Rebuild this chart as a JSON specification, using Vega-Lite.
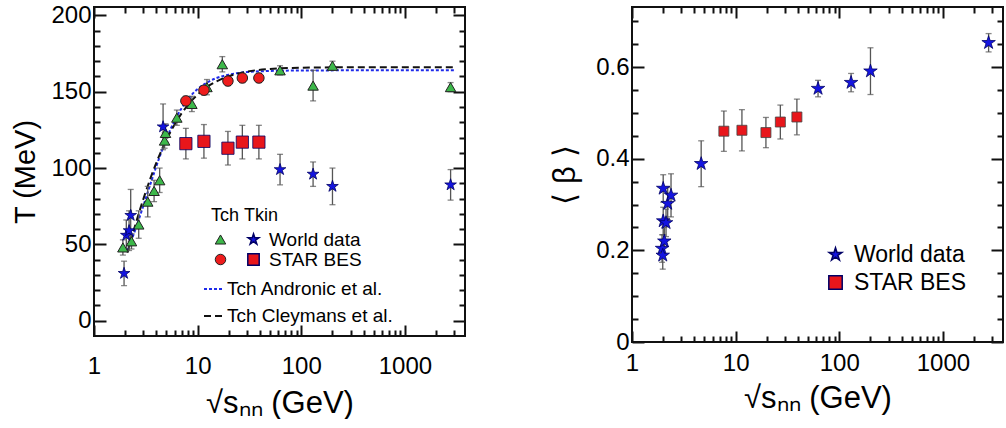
{
  "$schema": "https://vega.github.io/schema/vega-lite/v6.json",
  "padding": {"left": 10, "top": 2, "right": 0, "bottom": 0},
  "config": {
    "font": "Liberation Sans",
    "view": {"stroke": "#111111", "strokeWidth": 2},
    "axis": {"grid": false, "domain": false, "ticks": true, "zindex": 1, "labelFontSize": 24, "titleFontSize": 31, "titleFontWeight": "normal", "labelColor": "#000000", "titleColor": "#000000", "labelOverlap": false, "labelFlush": false},
    "legend": {"padding": 0, "titleFontWeight": "normal", "titleColor": "#000000", "labelColor": "#000000", "labelLimit": 400}
  },
  "bounds": "flush",
  "spacing": 167,
  "datasets": {
    "tch": [
      {"x": 1.9, "T": 48, "err": 5, "source": "World data"},
      {"x": 2.3, "T": 52, "err": 5, "source": "World data"},
      {"x": 2.7, "T": 63, "err": 9, "source": "World data"},
      {"x": 3.3, "T": 78, "err": 10, "source": "World data"},
      {"x": 3.8, "T": 85, "err": 7, "source": "World data"},
      {"x": 4.3, "T": 92, "err": 8, "source": "World data"},
      {"x": 4.8, "T": 118, "err": 5, "source": "World data"},
      {"x": 4.9, "T": 123, "err": 6, "source": "World data"},
      {"x": 6.3, "T": 133, "err": 5, "source": "World data"},
      {"x": 8.8, "T": 142, "err": 5, "source": "World data"},
      {"x": 12.3, "T": 153, "err": 5, "source": "World data"},
      {"x": 17.3, "T": 168, "err": 5, "source": "World data"},
      {"x": 62.4, "T": 164, "err": 3, "source": "World data"},
      {"x": 130, "T": 154, "err": 10, "source": "World data"},
      {"x": 200, "T": 167, "err": 3, "source": "World data"},
      {"x": 2760, "T": 153, "err": 3, "source": "World data"},
      {"x": 7.7, "T": 144, "err": 3, "source": "STAR BES"},
      {"x": 11.5, "T": 151, "err": 3, "source": "STAR BES"},
      {"x": 19.6, "T": 157, "err": 3, "source": "STAR BES"},
      {"x": 27, "T": 159, "err": 3, "source": "STAR BES"},
      {"x": 39, "T": 159, "err": 3, "source": "STAR BES"}
    ],
    "tkin": [
      {"x": 1.95, "T": 31, "err": 8, "source": "World data"},
      {"x": 2.05, "T": 56, "err": 10, "source": "World data"},
      {"x": 2.18, "T": 59, "err": 13, "source": "World data"},
      {"x": 2.26, "T": 69, "err": 17, "source": "World data"},
      {"x": 4.64, "T": 127, "err": 15, "source": "World data"},
      {"x": 62.4, "T": 99, "err": 10, "source": "World data"},
      {"x": 130, "T": 96, "err": 8, "source": "World data"},
      {"x": 200, "T": 88, "err": 12, "source": "World data"},
      {"x": 2760, "T": 89, "err": 10, "source": "World data"},
      {"x": 7.7, "T": 116, "err": 10, "source": "STAR BES"},
      {"x": 11.5, "T": 117.5, "err": 11, "source": "STAR BES"},
      {"x": 19.6, "T": 113, "err": 11, "source": "STAR BES"},
      {"x": 27, "T": 117, "err": 11, "source": "STAR BES"},
      {"x": 39, "T": 117, "err": 11, "source": "STAR BES"}
    ],
    "curves": [
      {"model": "Tch Andronic et al.", "x": 2.1, "T": 45.7},
      {"model": "Tch Andronic et al.", "x": 2.5, "T": 59.5},
      {"model": "Tch Andronic et al.", "x": 3, "T": 75.5},
      {"model": "Tch Andronic et al.", "x": 3.5, "T": 89.5},
      {"model": "Tch Andronic et al.", "x": 4, "T": 101.3},
      {"model": "Tch Andronic et al.", "x": 5, "T": 119.2},
      {"model": "Tch Andronic et al.", "x": 6, "T": 131.1},
      {"model": "Tch Andronic et al.", "x": 7, "T": 139.2},
      {"model": "Tch Andronic et al.", "x": 8, "T": 144.8},
      {"model": "Tch Andronic et al.", "x": 10, "T": 151.8},
      {"model": "Tch Andronic et al.", "x": 12, "T": 155.6},
      {"model": "Tch Andronic et al.", "x": 15, "T": 158.8},
      {"model": "Tch Andronic et al.", "x": 20, "T": 161.2},
      {"model": "Tch Andronic et al.", "x": 30, "T": 162.9},
      {"model": "Tch Andronic et al.", "x": 50, "T": 163.6},
      {"model": "Tch Andronic et al.", "x": 100, "T": 163.9},
      {"model": "Tch Andronic et al.", "x": 300, "T": 164},
      {"model": "Tch Andronic et al.", "x": 1000, "T": 164},
      {"model": "Tch Andronic et al.", "x": 3000, "T": 164},
      {"model": "Tch Cleymans et al.", "x": 2.1, "T": 44.6},
      {"model": "Tch Cleymans et al.", "x": 2.5, "T": 62.6},
      {"model": "Tch Cleymans et al.", "x": 3, "T": 79.9},
      {"model": "Tch Cleymans et al.", "x": 3.5, "T": 93.2},
      {"model": "Tch Cleymans et al.", "x": 4, "T": 103.6},
      {"model": "Tch Cleymans et al.", "x": 5, "T": 118.5},
      {"model": "Tch Cleymans et al.", "x": 6, "T": 128.6},
      {"model": "Tch Cleymans et al.", "x": 7, "T": 135.8},
      {"model": "Tch Cleymans et al.", "x": 8, "T": 141.1},
      {"model": "Tch Cleymans et al.", "x": 10, "T": 148.1},
      {"model": "Tch Cleymans et al.", "x": 12, "T": 152.5},
      {"model": "Tch Cleymans et al.", "x": 15, "T": 156.6},
      {"model": "Tch Cleymans et al.", "x": 20, "T": 160.2},
      {"model": "Tch Cleymans et al.", "x": 30, "T": 163.2},
      {"model": "Tch Cleymans et al.", "x": 50, "T": 164.9},
      {"model": "Tch Cleymans et al.", "x": 100, "T": 165.7},
      {"model": "Tch Cleymans et al.", "x": 300, "T": 166},
      {"model": "Tch Cleymans et al.", "x": 1000, "T": 166},
      {"model": "Tch Cleymans et al.", "x": 3000, "T": 166}
    ],
    "beta": [
      {"x": 1.95, "b": 0.204, "err": 0.03, "source": "World data"},
      {"x": 1.98, "b": 0.189, "err": 0.03, "source": "World data"},
      {"x": 2.05, "b": 0.22, "err": 0.03, "source": "World data"},
      {"x": 2.0, "b": 0.264, "err": 0.03, "source": "World data"},
      {"x": 2.13, "b": 0.26, "err": 0.03, "source": "World data"},
      {"x": 2.21, "b": 0.302, "err": 0.035, "source": "World data"},
      {"x": 2.38, "b": 0.32, "err": 0.047, "source": "World data"},
      {"x": 2.0, "b": 0.335, "err": 0.03, "source": "World data"},
      {"x": 4.65, "b": 0.389, "err": 0.05, "source": "World data"},
      {"x": 62.4, "b": 0.553, "err": 0.018, "source": "World data"},
      {"x": 130, "b": 0.566, "err": 0.02, "source": "World data"},
      {"x": 200, "b": 0.591, "err": 0.051, "source": "World data"},
      {"x": 2760, "b": 0.653, "err": 0.02, "source": "World data"},
      {"x": 7.7, "b": 0.46, "err": 0.044, "source": "STAR BES"},
      {"x": 11.5, "b": 0.462, "err": 0.045, "source": "STAR BES"},
      {"x": 19.6, "b": 0.457, "err": 0.033, "source": "STAR BES"},
      {"x": 27, "b": 0.48, "err": 0.037, "source": "STAR BES"},
      {"x": 39, "b": 0.491, "err": 0.039, "source": "STAR BES"}
    ]
  },
  "hconcat": [
    {
      "width": 371,
      "height": 329,
      "resolve": {"scale": {"color": "independent", "shape": "independent", "strokeDash": "independent"}, "axis": {"x": "independent", "y": "independent"}},
      "layer": [
        {
          "data": {"name": "curves"},
          "mark": {"type": "line", "strokeWidth": 2, "interpolate": "monotone"},
          "encoding": {
            "x": {"field": "x", "type": "quantitative", "scale": {"type": "log", "domain": [1, 3800], "nice": false},
              "axis": {"orient": "bottom", "title": "√sₙₙ (GeV)", "values": [1, 10, 100, 1000], "labelExpr": "'' + datum.value",
                "ticks": true, "tickColor": "#111111", "tickWidth": 2, "offset": -11, "tickSize": 11, "labelPadding": 18, "titlePadding": 10}},
            "y": {"field": "T", "type": "quantitative", "scale": {"domain": [-10, 205.5], "nice": false, "zero": false},
              "axis": {"orient": "left", "title": "T (MeV)", "titleFontSize": 29, "values": [0, 50, 100, 150, 200], "labelExpr": "'' + datum.value",
                "ticks": true, "tickColor": "#111111", "tickWidth": 2, "offset": -12, "tickSize": 12, "labelPadding": 3, "titlePadding": 10}},
            "color": {"field": "model", "type": "nominal", "scale": {"domain": ["Tch Andronic et al.", "Tch Cleymans et al."], "range": ["#1f2bea", "#111111"]},
              "legend": {"title": null, "orient": "none", "legendX": 109, "legendY": 272, "symbolType": "stroke", "symbolSize": 324, "symbolStrokeWidth": 2, "labelFontSize": 19, "rowPadding": 7, "labelOffset": 4}},
            "strokeDash": {"field": "model", "type": "nominal", "scale": {"domain": ["Tch Andronic et al.", "Tch Cleymans et al."], "range": [[3, 2], [7, 4]]},
              "legend": {"title": null, "orient": "none", "legendX": 109, "legendY": 272, "symbolType": "stroke", "symbolSize": 324, "symbolStrokeWidth": 2, "labelFontSize": 19, "rowPadding": 7, "labelOffset": 4}}
          }
        },
        {
          "data": {"name": "tch"},
          "mark": {"type": "errorbar", "ticks": {"size": 6}, "color": "#555555", "thickness": 1.3},
          "encoding": {
            "x": {"field": "x", "type": "quantitative",
              "axis": {"orient": "bottom", "title": null, "labels": false, "ticks": true, "tickColor": "#111111", "tickWidth": 2, "values": [2,3,4,5,6,7,8,9,20,30,40,50,60,70,80,90,200,300,400,500,600,700,800,900,2000,3000], "offset": -6, "tickSize": 6}},
            "y": {"field": "T", "type": "quantitative",
              "axis": {"orient": "left", "title": null, "labels": false, "ticks": true, "tickColor": "#111111", "tickWidth": 2, "values": [10,20,30,40,60,70,80,90,110,120,130,140,160,170,180,190], "offset": -6, "tickSize": 6}},
            "yError": {"field": "err"}
          }
        },
        {
          "data": {"name": "tkin"},
          "mark": {"type": "errorbar", "ticks": {"size": 6}, "color": "#555555", "thickness": 1.3},
          "encoding": {
            "x": {"field": "x", "type": "quantitative",
              "axis": {"orient": "top", "title": null, "labels": false, "ticks": true, "tickColor": "#111111", "tickWidth": 2, "values": [1, 10, 100, 1000], "offset": -11, "tickSize": 11}},
            "y": {"field": "T", "type": "quantitative",
              "axis": {"orient": "right", "title": null, "labels": false, "ticks": true, "tickColor": "#111111", "tickWidth": 2, "values": [0, 50, 100, 150, 200], "offset": -12, "tickSize": 12}},
            "yError": {"field": "err"}
          }
        },
        {
          "data": {"name": "tch"},
          "mark": {"type": "point", "filled": true, "size": 110, "stroke": "#222222", "strokeWidth": 1, "opacity": 1},
          "encoding": {
            "x": {"field": "x", "type": "quantitative",
              "axis": {"orient": "top", "title": null, "labels": false, "ticks": true, "tickColor": "#111111", "tickWidth": 2, "values": [2,3,4,5,6,7,8,9,20,30,40,50,60,70,80,90,200,300,400,500,600,700,800,900,2000,3000], "offset": -6, "tickSize": 6}},
            "y": {"field": "T", "type": "quantitative",
              "axis": {"orient": "right", "title": null, "labels": false, "ticks": true, "tickColor": "#111111", "tickWidth": 2, "values": [10,20,30,40,60,70,80,90,110,120,130,140,160,170,180,190], "offset": -6, "tickSize": 6}},
            "shape": {"field": "source", "type": "nominal", "scale": {"domain": ["World data", "STAR BES"], "range": ["triangle-up", "circle"]},
              "legend": {"title": "Tch", "orient": "none", "legendX": 117, "legendY": 200, "labelExpr": "''", "symbolSize": 110, "symbolStrokeColor": "#222222", "symbolStrokeWidth": 1, "titleFontSize": 18, "labelFontSize": 19, "rowPadding": 0, "titlePadding": 5, "labelOffset": 0}},
            "color": {"field": "source", "type": "nominal", "scale": {"domain": ["World data", "STAR BES"], "range": ["#3db84a", "#ee1c1c"]},
              "legend": {"title": "Tch", "orient": "none", "legendX": 117, "legendY": 200, "labelExpr": "''", "symbolSize": 110, "symbolStrokeColor": "#222222", "symbolStrokeWidth": 1, "titleFontSize": 18, "labelFontSize": 19, "rowPadding": 0, "titlePadding": 5, "labelOffset": 0}}
          }
        },
        {
          "data": {"name": "tkin"},
          "mark": {"type": "point", "filled": true, "size": 150, "stroke": "#000066", "strokeWidth": 0.8, "opacity": 1},
          "encoding": {
            "x": {"field": "x", "type": "quantitative", "axis": null},
            "y": {"field": "T", "type": "quantitative", "axis": null},
            "shape": {"field": "source", "type": "nominal", "scale": {"domain": ["World data", "STAR BES"], "range": ["M0,-1L0.225,-0.309L0.951,-0.309L0.363,0.118L0.588,0.809L0,0.382L-0.588,0.809L-0.363,0.118L-0.951,-0.309L-0.225,-0.309Z", "square"]},
              "legend": {"title": "Tkin", "orient": "none", "legendX": 150, "legendY": 200, "symbolSize": 130, "titleFontSize": 18, "labelFontSize": 19, "rowPadding": 0, "titlePadding": 5, "labelOffset": 6}},
            "color": {"field": "source", "type": "nominal", "scale": {"domain": ["World data", "STAR BES"], "range": ["#1414e0", "#e8161b"]},
              "legend": {"title": "Tkin", "orient": "none", "legendX": 150, "legendY": 200, "symbolSize": 130, "titleFontSize": 18, "labelFontSize": 19, "rowPadding": 0, "titlePadding": 5, "labelOffset": 6}}
          }
        }
      ]
    },
    {
      "width": 371,
      "height": 335,
      "data": {"name": "beta"},
      "resolve": {"axis": {"x": "independent", "y": "independent"}},
      "layer": [
        {
          "transform": [{"filter": "datum.source == 'World data'"}],
          "mark": {"type": "errorbar", "ticks": {"size": 6}, "color": "#555555", "thickness": 1.3},
          "encoding": {
            "x": {"field": "x", "type": "quantitative", "scale": {"type": "log", "domain": [1, 3800], "nice": false},
              "axis": {"orient": "bottom", "title": null, "labels": false, "ticks": true, "tickColor": "#111111", "tickWidth": 2, "values": [2,3,4,5,6,7,8,9,20,30,40,50,60,70,80,90,200,300,400,500,600,700,800,900,2000,3000], "offset": -6, "tickSize": 6}},
            "y": {"field": "b", "type": "quantitative", "scale": {"domain": [0, 0.731], "nice": false, "zero": false},
              "axis": {"orient": "left", "title": null, "labels": false, "ticks": true, "tickColor": "#111111", "tickWidth": 2, "values": [0.05,0.1,0.15,0.25,0.3,0.35,0.45,0.5,0.55,0.65,0.7], "offset": -6, "tickSize": 6}},
            "yError": {"field": "err"}
          }
        },
        {
          "transform": [{"filter": "datum.source == 'STAR BES'"}],
          "mark": {"type": "errorbar", "ticks": {"size": 6}, "color": "#555555", "thickness": 1.3},
          "encoding": {
            "x": {"field": "x", "type": "quantitative",
              "axis": {"orient": "top", "title": null, "labels": false, "ticks": true, "tickColor": "#111111", "tickWidth": 2, "values": [1, 10, 100, 1000], "offset": -11, "tickSize": 11}},
            "y": {"field": "b", "type": "quantitative",
              "axis": {"orient": "right", "title": null, "labels": false, "ticks": true, "tickColor": "#111111", "tickWidth": 2, "values": [0, 0.2, 0.4, 0.6], "offset": -12, "tickSize": 12}},
            "yError": {"field": "err"}
          }
        },
        {
          "transform": [{"filter": "datum.source == 'World data'"}],
          "mark": {"type": "point", "filled": true, "size": 200, "stroke": "#000066", "strokeWidth": 0.8, "opacity": 1},
          "encoding": {
            "x": {"field": "x", "type": "quantitative",
              "axis": {"orient": "bottom", "title": "√sₙₙ (GeV)", "values": [1, 10, 100, 1000], "labelExpr": "'' + datum.value",
                "ticks": true, "tickColor": "#111111", "tickWidth": 2, "offset": -11, "tickSize": 11, "labelPadding": 9, "titlePadding": 8}},
            "y": {"field": "b", "type": "quantitative",
              "axis": {"orient": "left", "title": "⟨ β ⟩", "values": [0, 0.2, 0.4, 0.6], "labelExpr": "datum.value == 0 ? '0' : format(datum.value, '.1f')",
                "ticks": true, "tickColor": "#111111", "tickWidth": 2, "offset": -12, "tickSize": 12, "labelPadding": 3, "titlePadding": 14}},
            "shape": {"field": "source", "type": "nominal", "scale": {"domain": ["World data", "STAR BES"], "range": ["M0,-1L0.225,-0.309L0.951,-0.309L0.363,0.118L0.588,0.809L0,0.382L-0.588,0.809L-0.363,0.118L-0.951,-0.309L-0.225,-0.309Z", "square"]},
              "legend": {"title": null, "orient": "none", "legendX": 192, "legendY": 236, "symbolSize": 180, "labelFontSize": 23, "rowPadding": 4, "labelOffset": 7}},
            "color": {"field": "source", "type": "nominal", "scale": {"domain": ["World data", "STAR BES"], "range": ["#1414e0", "#e8161b"]},
              "legend": {"title": null, "orient": "none", "legendX": 192, "legendY": 236, "symbolSize": 180, "labelFontSize": 23, "rowPadding": 4, "labelOffset": 7}}
          }
        },
        {
          "transform": [{"filter": "datum.source == 'STAR BES'"}],
          "mark": {"type": "point", "filled": true, "size": 100, "stroke": "#444444", "strokeWidth": 0.8, "opacity": 1},
          "encoding": {
            "x": {"field": "x", "type": "quantitative",
              "axis": {"orient": "top", "title": null, "labels": false, "ticks": true, "tickColor": "#111111", "tickWidth": 2, "values": [2,3,4,5,6,7,8,9,20,30,40,50,60,70,80,90,200,300,400,500,600,700,800,900,2000,3000], "offset": -6, "tickSize": 6}},
            "y": {"field": "b", "type": "quantitative",
              "axis": {"orient": "right", "title": null, "labels": false, "ticks": true, "tickColor": "#111111", "tickWidth": 2, "values": [0.05,0.1,0.15,0.25,0.3,0.35,0.45,0.5,0.55,0.65,0.7], "offset": -6, "tickSize": 6}},
            "shape": {"field": "source", "type": "nominal"},
            "color": {"field": "source", "type": "nominal"}
          }
        }
      ]
    }
  ],
  "resolve": {"scale": {"color": "independent", "shape": "independent", "strokeDash": "independent"}}
}
